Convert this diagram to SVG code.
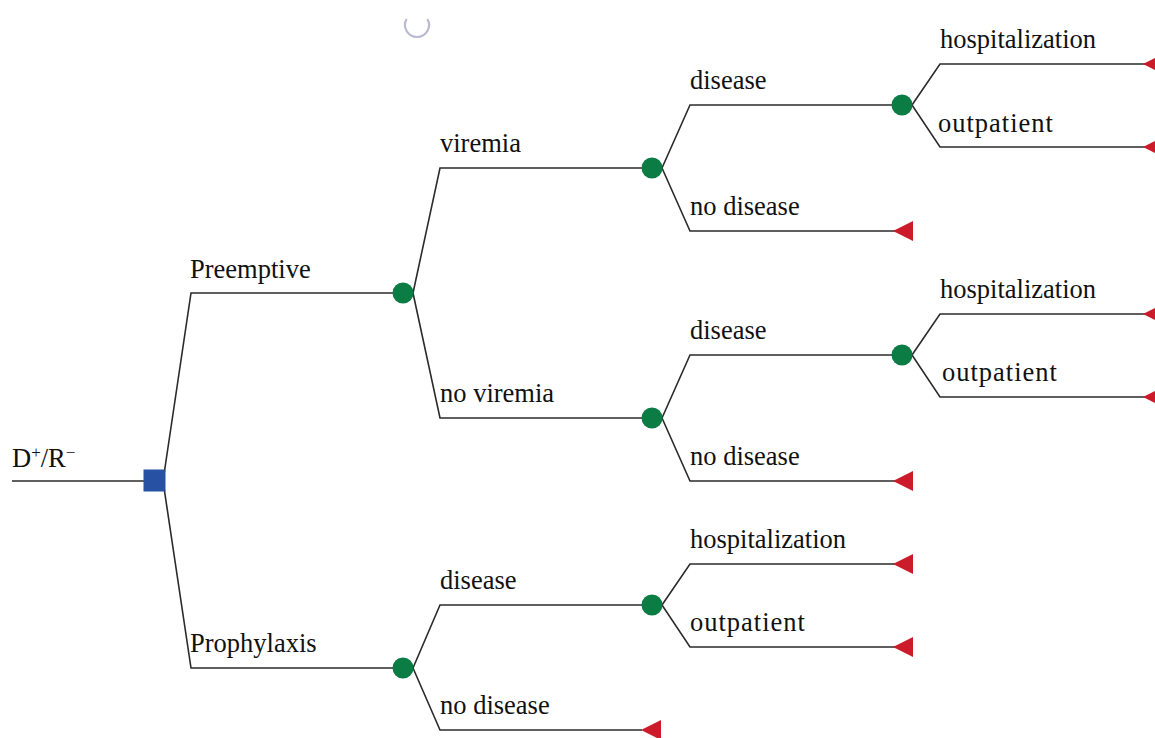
<svg xmlns="http://www.w3.org/2000/svg" width="1155" height="738" viewBox="0 0 1155 738">
<style>
.ln{fill:none;stroke:#2b2b2b;stroke-width:1.6}
.lb{font-family:"Liberation Serif","Times New Roman",serif;font-size:26.5px;fill:#111}
.op{letter-spacing:1px}
.ch{fill:#0b7c44}
.tm{fill:#cc1c2b}
.dc{fill:#2752a3}
</style>
<defs>
<circle id="chance" r="10.5" class="ch"/>
<path id="term" d="M0,0 L20,-10 L20,10 Z" class="tm"/>
</defs>
<rect width="1155" height="738" fill="#fff"/>
<path d="M406.6,19 A12,12 0 1 0 427.4,19" fill="none" stroke="#b9b9d2" stroke-width="2.2"/>
<g id="connectors" class="ln">
<path d="M12,481 H148"/>
<path d="M163,481 L191,293 H403"/>
<path d="M163,481 L191,668 H403"/>
<path d="M413,293 L440,168 H652"/>
<path d="M413,293 L440,418 H652"/>
<path d="M662,168 L690,105 H902"/>
<path d="M662,168 L690,231 H895"/>
<path d="M912,105 L940,64 H1145"/>
<path d="M912,105 L940,147 H1145"/>
<path d="M662,418 L690,355 H902"/>
<path d="M662,418 L690,481 H895"/>
<path d="M912,355 L940,314 H1145"/>
<path d="M912,355 L940,397 H1145"/>
<path d="M413,668 L440,605 H652"/>
<path d="M413,668 L440,730 H642"/>
<path d="M662,605 L690,564 H895"/>
<path d="M662,605 L690,647 H895"/>
</g>
<g id="root"><rect x="143.5" y="469.5" width="22" height="22" class="dc"/><text class="lb" x="12" y="467">D<tspan font-size="17" dy="-9">+</tspan><tspan dy="9">/R</tspan><tspan font-size="17" dy="-9">−</tspan></text></g>
<g id="preemptive"><text class="lb" x="190" y="278">Preemptive</text><use href="#chance" x="403" y="293"/></g>
<g id="prophylaxis"><text class="lb" x="190" y="652">Prophylaxis</text><use href="#chance" x="403" y="668"/></g>
<g id="viremia"><text class="lb" x="440" y="152">viremia</text><use href="#chance" x="652" y="168"/></g>
<g id="noviremia"><text class="lb" x="440" y="402">no viremia</text><use href="#chance" x="652" y="418"/></g>
<g id="v-disease"><text class="lb" x="690" y="89">disease</text><use href="#chance" x="902" y="105"/></g>
<g id="v-nodisease"><text class="lb" x="690" y="215">no disease</text><use href="#term" x="893" y="231"/></g>
<g id="v-hosp"><text class="lb" x="940" y="48">hospitalization</text><use href="#term" x="1143" y="64"/></g>
<g id="v-out"><text class="lb op" x="938" y="132">outpatient</text><use href="#term" x="1143" y="147"/></g>
<g id="nv-disease"><text class="lb" x="690" y="339">disease</text><use href="#chance" x="902" y="355"/></g>
<g id="nv-nodisease"><text class="lb" x="690" y="465">no disease</text><use href="#term" x="893" y="481"/></g>
<g id="nv-hosp"><text class="lb" x="940" y="298">hospitalization</text><use href="#term" x="1143" y="314"/></g>
<g id="nv-out"><text class="lb op" x="942" y="381">outpatient</text><use href="#term" x="1143" y="397"/></g>
<g id="p-disease"><text class="lb" x="440" y="589">disease</text><use href="#chance" x="652" y="605"/></g>
<g id="p-nodisease"><text class="lb" x="440" y="714">no disease</text><use href="#term" x="641" y="730"/></g>
<g id="p-hosp"><text class="lb" x="690" y="548">hospitalization</text><use href="#term" x="893" y="564"/></g>
<g id="p-out"><text class="lb op" x="690" y="631">outpatient</text><use href="#term" x="893" y="647"/></g>
</svg>
